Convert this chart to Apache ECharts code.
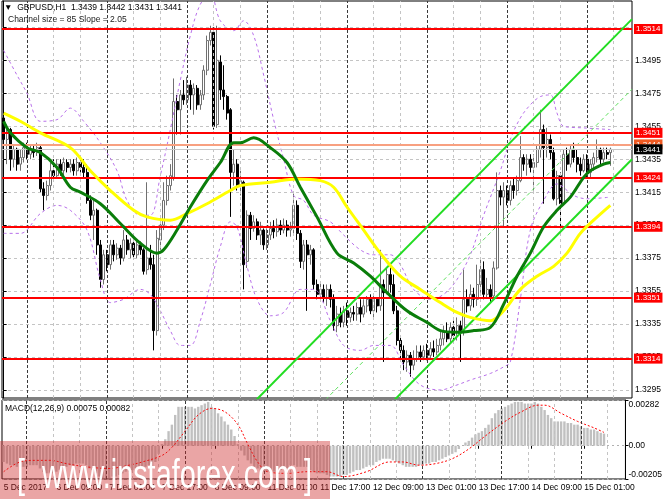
<!DOCTYPE html>
<html>
<head>
<meta charset="utf-8">
<script src="https://cdn.jsdelivr.net/npm/echarts@6.0.0/dist/echarts.min.js"></script>
<style>
html,body{margin:0;padding:0;background:#fff;}
#chart{width:665px;height:499px;}
</style>
</head>
<body>
<div id="chart"></div>
<script>
// ---------------- data ----------------
const symbolName = 'GBPUSD,H1';
const dayNames = ['5 Dec','6 Dec','7 Dec','8 Dec','11 Dec','12 Dec','13 Dec','14 Dec','15 Dec'];
const firstHour = 17;      // first bar: 5 Dec 17:00
const lastSlotHour = 13;   // last slot on the axis (empty space right of last bar)
const tickLabels = ['5 Dec 2017','6 Dec 09:00','7 Dec 01:00','7 Dec 17:00','8 Dec 09:00','11 Dec 01:00',
                    '11 Dec 17:00','12 Dec 09:00','13 Dec 01:00','13 Dec 17:00','14 Dec 09:00','15 Dec 01:00'];
const priceTicks = [1.3295,1.3315,1.3335,1.3355,1.3375,1.3395,1.3415,1.3435,1.3455,1.3475,1.3495,1.3515];
const levels = [1.3514,1.3451,1.3424,1.3394,1.3351,1.3314];
const askLevel = 1.3444;
const macdTicks = [-0.00205,0,0.00282];
const channelSize = 85, channelSlope = 2.05;

const opens = [1.3460,1.3447,1.3453,1.3435,1.3441,1.3432,1.3436,1.3442,1.3438,1.3441,
 1.3439,1.3442,1.3417,1.3413,1.3419,1.3428,1.3425,1.3432,1.3428,1.3433,
 1.3430,1.3432,1.3428,1.3433,1.3430,1.3427,1.3410,1.3401,1.3404,1.3383,
 1.3362,1.3377,1.3371,1.3383,1.3377,1.3381,1.3375,1.3386,1.3380,1.3384,
 1.3377,1.3383,1.3380,1.3368,1.3375,1.3371,1.3331,1.3386,1.3395,1.3410,
 1.3419,1.3424,1.3470,1.3465,1.3474,1.3471,1.3480,1.3474,1.3478,1.3468,
 1.3474,1.3489,1.3507,1.3512,1.3456,1.3494,1.3477,1.3473,1.3465,1.3427,
 1.3432,1.3419,1.3421,1.3373,1.3401,1.3393,1.3397,1.3389,1.3392,1.3383,
 1.3389,1.3393,1.3391,1.3395,1.3392,1.3395,1.3392,1.3393,1.3407,1.3390,
 1.3373,1.3383,1.3377,1.3380,1.3359,1.3353,1.3356,1.3351,1.3356,1.3350,
 1.3334,1.3341,1.3336,1.3343,1.3339,1.3342,1.3341,1.3345,1.3341,1.3346,
 1.3350,1.3343,1.3350,1.3346,1.3359,1.3354,1.3365,1.3359,1.3343,1.3325,
 1.3319,1.3312,1.3316,1.3310,1.3314,1.3318,1.3315,1.3319,1.3316,1.3320,
 1.3318,1.3322,1.3326,1.3330,1.3326,1.3333,1.3328,1.3334,1.3331,1.3350,
 1.3346,1.3353,1.3350,1.3359,1.3368,1.3353,1.3356,1.3352,1.3369,1.3416,
 1.3412,1.3416,1.3410,1.3419,1.3416,1.3422,1.3436,1.3432,1.3435,1.3430,
 1.3433,1.3441,1.3453,1.3442,1.3447,1.3439,1.3411,1.3425,1.3408,1.3438,
 1.3432,1.3441,1.3436,1.3432,1.3428,1.3435,1.3427,1.3432,1.3436,1.3441,
 1.3435,1.3439,1.3439];
const closes = [1.3447,1.3453,1.3435,1.3441,1.3432,1.3436,1.3442,1.3438,1.3441,1.3439,
 1.3442,1.3417,1.3413,1.3419,1.3428,1.3425,1.3432,1.3428,1.3433,1.3430,
 1.3432,1.3428,1.3433,1.3430,1.3427,1.3410,1.3401,1.3404,1.3383,1.3362,
 1.3377,1.3371,1.3383,1.3377,1.3381,1.3375,1.3386,1.3380,1.3384,1.3377,
 1.3383,1.3380,1.3367,1.3375,1.3371,1.3331,1.3387,1.3395,1.3410,1.3419,
 1.3425,1.3470,1.3465,1.3474,1.3471,1.3480,1.3474,1.3478,1.3468,1.3474,
 1.3489,1.3507,1.3512,1.3455,1.3495,1.3477,1.3473,1.3463,1.3427,1.3432,
 1.3419,1.3422,1.3371,1.3401,1.3393,1.3397,1.3389,1.3392,1.3383,1.3389,
 1.3393,1.3391,1.3395,1.3392,1.3395,1.3392,1.3393,1.3407,1.3390,1.3373,
 1.3383,1.3377,1.3380,1.3359,1.3353,1.3356,1.3351,1.3356,1.3350,1.3334,
 1.3341,1.3336,1.3343,1.3339,1.3342,1.3341,1.3345,1.3341,1.3346,1.3350,
 1.3343,1.3350,1.3346,1.3359,1.3354,1.3365,1.3359,1.3343,1.3325,1.3319,
 1.3312,1.3316,1.3310,1.3314,1.3318,1.3315,1.3319,1.3316,1.3320,1.3318,
 1.3322,1.3326,1.3330,1.3326,1.3333,1.3328,1.3334,1.3331,1.3350,1.3346,
 1.3353,1.3350,1.3359,1.3368,1.3353,1.3356,1.3351,1.3369,1.3416,1.3412,
 1.3416,1.3410,1.3419,1.3416,1.3422,1.3436,1.3432,1.3435,1.3430,1.3433,
 1.3441,1.3453,1.3442,1.3447,1.3439,1.3411,1.3425,1.3408,1.3438,1.3432,
 1.3441,1.3436,1.3432,1.3428,1.3435,1.3427,1.3432,1.3436,1.3441,1.3435,
 1.3439,1.3438,1.3441];
const highs = [1.3464,1.3456,1.3454,1.3444,1.3442,1.3441,1.3445,1.3445,1.3443,1.3444,
 1.3445,1.3444,1.3421,1.3422,1.3433,1.3435,1.3435,1.3435,1.3436,1.3435,
 1.3435,1.3435,1.3436,1.3435,1.3435,1.3432,1.3413,1.3410,1.3405,1.3386,
 1.3380,1.3380,1.3386,1.3386,1.3384,1.3383,1.3392,1.3389,1.3387,1.3386,
 1.3386,1.3385,1.3381,1.3421,1.3383,1.3377,1.3392,1.3401,1.3421,1.3425,
 1.3432,1.3484,1.3474,1.3477,1.3483,1.3485,1.3483,1.3481,1.3480,1.3477,
 1.3492,1.3510,1.3516,1.3515,1.3516,1.3498,1.3492,1.3474,1.3466,1.3441,
 1.3435,1.3428,1.3422,1.3404,1.3403,1.3401,1.3399,1.3397,1.3393,1.3393,
 1.3397,1.3398,1.3399,1.3398,1.3399,1.3398,1.3397,1.3415,1.3410,1.3392,
 1.3386,1.3386,1.3383,1.3381,1.3362,1.3360,1.3359,1.3359,1.3359,1.3353,
 1.3346,1.3345,1.3346,1.3348,1.3345,1.3346,1.3348,1.3350,1.3350,1.3352,
 1.3353,1.3353,1.3351,1.3380,1.3362,1.3369,1.3371,1.3365,1.3346,1.3328,
 1.3322,1.3319,1.3318,1.3319,1.3322,1.3322,1.3322,1.3323,1.3324,1.3325,
 1.3326,1.3331,1.3334,1.3336,1.3336,1.3337,1.3339,1.3337,1.3368,1.3356,
 1.3359,1.3357,1.3371,1.3375,1.3373,1.3363,1.3359,1.3373,1.3427,1.3419,
 1.3421,1.3419,1.3422,1.3424,1.3425,1.3449,1.3438,1.3438,1.3438,1.3438,
 1.3444,1.3465,1.3456,1.3454,1.3450,1.3442,1.3428,1.3427,1.3441,1.3442,
 1.3444,1.3445,1.3441,1.3436,1.3438,1.3438,1.3435,1.3439,1.3447,1.3442,
 1.3442,1.3442,1.3442];
const lows = [1.3444,1.3432,1.3428,1.3430,1.3428,1.3428,1.3433,1.3435,1.3435,1.3436,
 1.3437,1.3415,1.3404,1.3410,1.3416,1.3422,1.3424,1.3425,1.3425,1.3427,
 1.3427,1.3425,1.3425,1.3427,1.3424,1.3408,1.3398,1.3386,1.3377,1.3357,
 1.3359,1.3367,1.3368,1.3373,1.3374,1.3371,1.3373,1.3377,1.3375,1.3374,
 1.3375,1.3377,1.3365,1.3365,1.3368,1.3319,1.3328,1.3380,1.3392,1.3407,
 1.3416,1.3422,1.3450,1.3450,1.3468,1.3468,1.3465,1.3462,1.3465,1.3465,
 1.3471,1.3486,1.3504,1.3453,1.3454,1.3471,1.3465,1.3459,1.3400,1.3419,
 1.3416,1.3413,1.3356,1.3369,1.3386,1.3391,1.3386,1.3383,1.3380,1.3380,
 1.3386,1.3387,1.3388,1.3389,1.3390,1.3388,1.3388,1.3389,1.3386,1.3369,
 1.3368,1.3343,1.3371,1.3356,1.3350,1.3351,1.3348,1.3346,1.3345,1.3331,
 1.3330,1.3333,1.3333,1.3334,1.3336,1.3337,1.3337,1.3336,1.3339,1.3342,
 1.3341,1.3339,1.3342,1.3343,1.3312,1.3353,1.3354,1.3341,1.3322,1.3314,
 1.3307,1.3306,1.3303,1.3307,1.3312,1.3312,1.3313,1.3313,1.3314,1.3315,
 1.3316,1.3319,1.3322,1.3324,1.3323,1.3325,1.3325,1.3312,1.3328,1.3342,
 1.3343,1.3345,1.3346,1.3354,1.3350,1.3351,1.3348,1.3350,1.3368,1.3407,
 1.3394,1.3407,1.3407,1.3411,1.3413,1.3421,1.3428,1.3425,1.3427,1.3416,
 1.3430,1.3436,1.3408,1.3436,1.3435,1.3410,1.3407,1.3392,1.3407,1.3428,
 1.3430,1.3433,1.3427,1.3425,1.3427,1.3424,1.3424,1.3428,1.3433,1.3432,
 1.3433,1.3435,1.3431];

// moving averages and bands: [bar index, price]
const greenMA = [[0,1.3458],[2,1.3451],[7,1.3442],[11,1.3439],[16,1.3430],[20,1.3418],[23,1.3415],[29,1.3408],
 [35,1.3396],[41,1.3384],[46,1.3378],[48,1.3380],[52,1.3392],[56,1.3406],[61,1.3422],[65,1.3433],[69,1.3445],
 [71,1.3445],[75,1.3448],[80,1.3442],[85,1.3433],[89,1.3418],[94,1.3400],[100,1.3378],[105,1.3372],[110,1.3364],
 [115,1.3354],[121,1.3343],[127,1.3336],[131,1.3331],[136,1.3330],[141,1.3331],[146,1.3333],[150,1.3347],
 [154,1.3364],[158,1.3378],[162,1.3394],[166,1.3404],[170,1.3412],[174,1.3424],[176,1.3428],[180,1.3432],[182,1.3433]];
const yellowMA = [[0,1.3463],[5,1.3458],[11,1.3451],[20,1.3442],[26,1.3428],[32,1.3416],[39,1.3404],[43,1.3400],
 [50,1.3398],[55,1.3402],[61,1.3408],[68,1.3416],[71,1.3419],[80,1.3421],[88,1.3423],[95,1.3422],[99,1.3418],
 [103,1.3406],[108,1.3392],[113,1.3378],[119,1.3364],[125,1.3356],[131,1.3348],[136,1.3342],[140,1.3339],
 [146,1.3337],[150,1.3343],[155,1.3356],[160,1.3364],[165,1.3370],[169,1.3378],[173,1.3390],[177,1.3398],[182,1.3407]];
const upperBand = [[0,1.3501],[4,1.3486],[7,1.3475],[11,1.3458],[16,1.3459],[20,1.3466],[24,1.3458],[29,1.3445],
 [34,1.3428],[37,1.3410],[41,1.3401],[44,1.3401],[47,1.3425],[50,1.3453],[53,1.3483],[56,1.3510],[59,1.3529],
 [62,1.3535],[65,1.3519],[69,1.3513],[72,1.3519],[75,1.3510],[78,1.3486],[81,1.3459],[84,1.3435],[87,1.3413],
 [90,1.3410],[93,1.3401],[98,1.3397],[102,1.3389],[107,1.3380],[111,1.3377],[116,1.3377],[119,1.3371],
 [123,1.3356],[128,1.3350],[132,1.3353],[136,1.3362],[140,1.3377],[144,1.3401],[149,1.3428],[152,1.3447],
 [155,1.3460],[158,1.3468],[161,1.3473],[164,1.3474],[166,1.3463],[168,1.3455],[174,1.3454],[182,1.3453]];
const lowerBand = [[0,1.3390],[5,1.3390],[11,1.3402],[16,1.3407],[20,1.3404],[25,1.3392],[29,1.3362],[32,1.3348],
 [36,1.3350],[41,1.3356],[44,1.3353],[47,1.3343],[50,1.3331],[53,1.3322],[56,1.3322],[59,1.3337],[62,1.3359],
 [65,1.3382],[68,1.3397],[70,1.3394],[73,1.3370],[76,1.3350],[80,1.3340],[84,1.3342],[89,1.3356],[93,1.3356],
 [98,1.3337],[102,1.3322],[107,1.3319],[111,1.3322],[116,1.3322],[120,1.3310],[125,1.3298],[131,1.3295],
 [136,1.3298],[140,1.3301],[146,1.3305],[150,1.3309],[152,1.3312],[155,1.3350],[158,1.3392],[162,1.3410],
 [166,1.3420],[171,1.3413],[175,1.3411],[182,1.3412]];
const channelUpper = [[70,1.32771],[188.5,1.35200]];
const channelMiddle = [[70,1.32346],[188.5,1.34775]];
const channelLower = [[70,1.31921],[188.5,1.34350]];

const macd = [-0.0010,-0.0011,-0.0012,-0.0012,-0.0013,-0.0013,-0.0013,-0.0013,-0.0012,-0.0012,
 -0.0012,-0.0014,-0.0016,-0.0017,-0.0017,-0.0017,-0.0016,-0.0015,-0.0014,-0.0013,
 -0.0012,-0.0012,-0.0011,-0.0011,-0.0011,-0.0012,-0.0014,-0.0015,-0.0017,-0.0019,
 -0.0020,-0.0020,-0.0020,-0.0019,-0.0019,-0.0018,-0.0017,-0.0016,-0.0016,-0.0015,
 -0.0014,-0.0013,-0.0013,-0.0013,-0.0012,-0.0014,-0.0010,-0.0005,0.0001,0.0004,
 0.0009,0.0013,0.0019,0.0024,0.0024,0.0024,0.0024,0.0024,0.0023,0.0024,
 0.0025,0.0026,0.0027,0.0024,0.0023,0.0020,0.0018,0.0015,0.0013,0.0010,
 0.0006,0.0001,-0.0003,-0.0006,-0.0009,-0.0011,-0.0013,-0.0014,-0.0015,-0.0016,
 -0.0016,-0.0016,-0.0016,-0.0015,-0.0015,-0.0014,-0.0014,-0.0012,-0.0012,-0.0013,
 -0.0013,-0.0013,-0.0013,-0.0015,-0.0016,-0.0017,-0.0017,-0.0017,-0.0018,-0.0019,
 -0.0019,-0.0019,-0.0019,-0.0018,-0.0018,-0.0017,-0.0016,-0.0015,-0.0015,-0.0014,
 -0.0013,-0.0012,-0.0012,-0.0010,-0.0009,-0.0008,-0.0008,-0.0008,-0.0009,-0.0010,
 -0.0011,-0.0012,-0.0013,-0.0013,-0.0013,-0.0013,-0.0012,-0.0012,-0.0011,-0.0011,
 -0.0010,-0.0010,-0.0009,-0.0008,-0.0007,-0.0006,-0.0005,-0.0004,-0.0002,0.0000,
 0.0002,0.0003,0.0005,0.0007,0.0008,0.0009,0.0011,0.0013,0.0017,0.0020,
 0.0022,0.0023,0.0024,0.0025,0.0026,0.0027,0.0027,0.0027,0.0026,0.0026,
 0.0026,0.0027,0.0026,0.0024,0.0022,0.0019,0.0017,0.0015,0.0015,0.0015,
 0.0015,0.0014,0.0014,0.0013,0.0013,0.0012,0.0011,0.0011,0.0010,0.0010,
 0.0009,0.0008,0.00075];
const macdSignal = [[0,-0.0016],[5,-0.0010],[10,-0.0009],[14,-0.0009],[19,-0.0011],[25,-0.0013],[32,-0.0014],
 [38,-0.0012],[42,-0.0010],[48,-0.0006],[51,-0.0001],[55,0.0009],[59,0.0019],[63,0.0023],[67,0.0021],[71,0.0013],
 [74,0.0001],[77,-0.0010],[80,-0.0016],[86,-0.0017],[92,-0.0016],[98,-0.0016],[103,-0.0019],[110,-0.0016],
 [117,-0.0010],[121,-0.0010],[126,-0.0012],[131,-0.0011],[136,-0.0008],[141,-0.0002],[146,0.0006],[152,0.0015],
 [157,0.0021],[162,0.0025],[164,0.0025],[169,0.0020],[174,0.0015],[179,0.0011],[182,0.00082]];

// ---------------- build ----------------
const categories = [], hours = [];
dayNames.forEach((d, k) => {
  const h0 = k === 0 ? firstHour : 0;
  const h1 = k === dayNames.length - 1 ? lastSlotHour : 23;
  for (let h = h0; h <= h1; h++) { categories.push(d + ' ' + String(h).padStart(2, '0') + ':00'); hours.push(h); }
});
const nBars = closes.length;
const last = nBars - 1;
const candleData = opens.map((o, i) => [o, closes[i], lows[i], highs[i]]);
const gridLineIdx = hours.map((h, i) => (h % 8 === 0 && h !== 0) ? i : -1).filter(i => i >= 0);
const dayIdx = hours.map((h, i) => h === 0 ? i : -1).filter(i => i >= 0);
const labelEvery = 16;
const showLabel = (idx) => idx % labelEvery === 0 && idx < nBars;

const FONT = '"Liberation Sans", Arial, sans-serif';
const vLines = (idxList, color, type) => ({
  silent: true, symbol: ['none', 'none'], label: { show: false }, precision: 6,
  lineStyle: { color: color, type: type, width: 1 }, emphasis: { disabled: true },
  data: idxList.map(i => ({ xAxis: categories[i] }))
});
const levelLabel = (bg, fg) => ({
  show: true, position: 'end', distance: 2, formatter: p => Number(p.value).toFixed(4),
  backgroundColor: bg, color: fg, fontSize: 8, fontFamily: FONT, padding: [1, 2, 0, 2], lineHeight: 9
});
const gridSeries = (xi, yi) => ([
  { type: 'line', xAxisIndex: xi, yAxisIndex: yi, data: [], z: 1, markLine: vLines(gridLineIdx, '#c4c4c4', [3, 3]) },
  { type: 'line', xAxisIndex: xi, yAxisIndex: yi, data: [], z: 1, markLine: vLines(dayIdx, '#3a3a3a', [3, 2]) }
]);

const option = {
  animation: false,
  backgroundColor: '#ffffff',
  textStyle: { fontFamily: FONT },
  grid: [
    { left: 2, width: 630, top: 1, height: 397, show: true, borderColor: '#000', borderWidth: 1, backgroundColor: 'transparent' },
    { left: 2, width: 630, top: 400, height: 79, show: true, borderColor: '#000', borderWidth: 1, backgroundColor: 'transparent' }
  ],
  xAxis: [
    { type: 'category', gridIndex: 0, data: categories, boundaryGap: true,
      axisLine: { show: false }, axisTick: { show: false }, axisLabel: { show: false }, splitLine: { show: false } },
    { type: 'category', gridIndex: 1, data: categories, boundaryGap: true,
      axisLine: { show: false },
      axisTick: { show: true, alignWithLabel: true, interval: showLabel, length: 3, lineStyle: { color: '#000' } },
      axisLabel: { interval: showLabel, formatter: (v, idx) => tickLabels[idx / labelEvery], align: 'left',
        fontSize: 8.5, color: '#000', margin: 4, fontFamily: FONT },
      splitLine: { show: false } },
    { type: 'value', gridIndex: 0, min: -0.5, max: categories.length - 0.5, show: false }
  ],
  yAxis: [
    { type: 'value', gridIndex: 0, position: 'right', min: 1.32901, max: 1.35310,
      axisLine: { show: true, lineStyle: { color: '#000' } },
      axisTick: { show: true, length: 3, customValues: priceTicks, lineStyle: { color: '#000' } },
      axisLabel: { customValues: priceTicks, formatter: v => v.toFixed(4), fontSize: 8.5, color: '#000', margin: 3, fontFamily: FONT },
      splitLine: { show: true, lineStyle: { color: '#c4c4c4', type: [3, 3] } } },
    { type: 'value', gridIndex: 1, position: 'right', min: macdTicks[0], max: macdTicks[2],
      axisLine: { show: true, lineStyle: { color: '#000' } },
      axisTick: { show: true, length: 3, customValues: macdTicks, lineStyle: { color: '#000' } },
      axisLabel: { customValues: macdTicks, formatter: v => v === 0 ? '0.00' : v.toFixed(5), fontSize: 8.5, color: '#000',
        margin: 3, fontFamily: FONT, verticalAlignMaxLabel: 'top', verticalAlignMinLabel: 'bottom' },
      splitLine: { show: true, lineStyle: { color: '#b0b0b0', type: [2, 3] } } }
  ],
  series: [
    ...gridSeries(0, 0),
    ...gridSeries(1, 1),
    { name: 'price', type: 'candlestick', xAxisIndex: 0, yAxisIndex: 0, data: candleData, barWidth: 2.5, z: 3,
      itemStyle: { color: '#ffffff', color0: '#000000', borderColor: '#707070', borderColor0: '#000000', borderWidth: 1 } },
    { name: 'upperBand', type: 'line', xAxisIndex: 0, yAxisIndex: 0, data: upperBand, smooth: 0.35, symbol: 'none', z: 4,
      lineStyle: { color: '#b870ea', width: 1, type: [3, 3] } },
    { name: 'lowerBand', type: 'line', xAxisIndex: 0, yAxisIndex: 0, data: lowerBand, smooth: 0.35, symbol: 'none', z: 4,
      lineStyle: { color: '#b870ea', width: 1, type: [3, 3] } },
    { name: 'channelMiddle', type: 'line', xAxisIndex: 2, yAxisIndex: 0, data: channelMiddle, symbol: 'none', z: 4,
      lineStyle: { color: '#5fe05f', width: 1, type: [4, 3] } },
    { name: 'channelUpper', type: 'line', xAxisIndex: 2, yAxisIndex: 0, data: channelUpper, symbol: 'none', z: 5,
      lineStyle: { color: '#22dd22', width: 2 } },
    { name: 'channelLower', type: 'line', xAxisIndex: 2, yAxisIndex: 0, data: channelLower, symbol: 'none', z: 5,
      lineStyle: { color: '#22dd22', width: 2 } },
    { name: 'yellowMA', type: 'line', xAxisIndex: 0, yAxisIndex: 0, data: yellowMA, smooth: 0.35, symbol: 'none', z: 5,
      lineStyle: { color: '#ffff00', width: 3 } },
    { name: 'greenMA', type: 'line', xAxisIndex: 0, yAxisIndex: 0, data: greenMA, smooth: 0.35, symbol: 'none', z: 5,
      lineStyle: { color: '#0a7d0a', width: 3 } },
    { name: 'levels', type: 'line', xAxisIndex: 0, yAxisIndex: 0, data: [], z: 6,
      markLine: {
        silent: true, symbol: ['none', 'none'], emphasis: { disabled: true }, precision: 6,
        lineStyle: { color: '#ff0000', width: 2, type: 'solid' },
        label: levelLabel('#ff0000', '#ffffff'),
        data: levels.map(v => ({ yAxis: v }))
          .concat([{ yAxis: askLevel, lineStyle: { color: '#f8a080', width: 2, type: 'solid' }, label: levelLabel('#f05a22', '#ffffff') },
                   { yAxis: closes[last], lineStyle: { color: '#c8c8c8', width: 1, type: 'solid' }, label: levelLabel('#000000', '#ffffff') }])
      } },
    { name: 'macd', type: 'bar', xAxisIndex: 1, yAxisIndex: 1, data: macd, barWidth: 2.4, z: 3,
      itemStyle: { color: '#c0c0c0' } },
    { name: 'signal', type: 'line', xAxisIndex: 1, yAxisIndex: 1, data: macdSignal, smooth: 0.35, symbol: 'none', z: 4,
      lineStyle: { color: '#ff0000', width: 1, type: [2, 2] } }
  ],
  graphic: [
    { type: 'text', x: 4, y: 8, z: 50, style: { text: '\u25BC  ' + symbolName + '  ' +
        [opens[last], highs[last], lows[last], closes[last]].map(v => v.toFixed(4)).join(' '),
        font: '8.5px ' + FONT, fill: '#000', verticalAlign: 'middle' } },
    { type: 'text', x: 8, y: 20, z: 50, style: { text: 'Channel size = ' + channelSize + ' Slope = ' + channelSlope.toFixed(2),
        font: '8.5px ' + FONT, fill: '#1a1a1a', verticalAlign: 'middle' } },
    { type: 'text', x: 5, y: 409, z: 50, style: { text: 'MACD(12,26,9) ' + macd[last].toFixed(5) + ' ' + macdSignal[macdSignal.length - 1][1].toFixed(5),
        font: '8.5px ' + FONT, fill: '#000', verticalAlign: 'middle' } },
    { type: 'rect', z: 100, shape: { x: 0, y: 441, width: 330, height: 58 }, style: { fill: 'rgba(205,40,40,0.42)' } },
    { type: 'text', z: 101, x: 17, y: 477, scaleX: 0.72, style: { text: '[', font: '40px ' + FONT, fill: '#ffffff', verticalAlign: 'middle' } },
    { type: 'text', z: 101, x: 42, y: 477, scaleX: 0.72, style: { text: 'www.instaforex.com', font: '40px ' + FONT, fill: '#ffffff', verticalAlign: 'middle' } },
    { type: 'text', z: 101, x: 304, y: 477, scaleX: 0.72, style: { text: ']', font: '40px ' + FONT, fill: '#ffffff', verticalAlign: 'middle' } }
  ]
};
const chart = echarts.init(document.getElementById('chart'), null, { renderer: 'canvas' });
chart.setOption(option);
</script>
</body>
</html>
